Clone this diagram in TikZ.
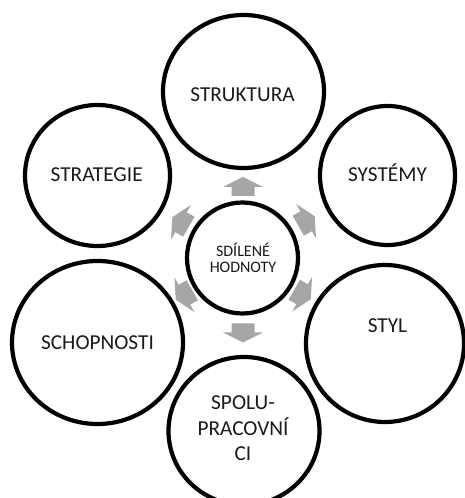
\documentclass[tikz,border=0pt]{standalone}
\usepackage{fontspec}
\setmainfont{Carlito}
\usetikzlibrary{shapes.geometric}
\definecolor{arrowgray}{HTML}{A6A6A6}
\definecolor{txtgray}{HTML}{1A1A1A}
\tikzset{
  ring/.style={ellipse, draw=black, fill=white, line width=4.2pt, inner sep=0pt},
  lbl/.style={font=\fontsize{21.3}{25.5}\selectfont, text=txtgray, anchor=base, align=center, inner sep=0pt},
  smalllbl/.style={font=\fontsize{16}{16.3}\selectfont, text=txtgray, anchor=center, align=center, inner sep=0pt},
  blockarrow/.pic={\fill[arrowgray] (-9.5,-11.5) -- (-0.5,-11.5) -- (-0.5,-20) -- (9.5,0) -- (-0.5,20) -- (-0.5,11.5) -- (-9.5,11.5) -- cycle;}
}
\begin{document}
\begin{tikzpicture}[x=1pt,y=1pt]
\useasboundingbox (0,0) rectangle (465,498);
\clip (0,0) rectangle (465,498);
% arrows (under the circles)
\pic[rotate=90]  at (243,311.5) {blockarrow};
\pic[rotate=270] at (243,165)   {blockarrow};
\pic[rotate=150] at (180.6,276) {blockarrow};
\pic[rotate=30]  at (306.5,277) {blockarrow};
\pic[rotate=210] at (184,203)   {blockarrow};
\pic[rotate=330] at (302.5,203.5) {blockarrow};
% circles
\node[ring, minimum width=161pt, minimum height=153pt] (struktura) at (243.5,406.5) {};
\node[ring, minimum width=145pt, minimum height=141pt] (strategie) at (97.5,322.5) {};
\node[ring, minimum width=135pt, minimum height=139pt] (systemy) at (387.5,322.5) {};
\node[ring, minimum width=171pt, minimum height=163pt] (schopnosti) at (97.5,155.5) {};
\node[ring, minimum width=158pt, minimum height=157pt] (styl) at (385,154.5) {};
\node[ring, minimum width=151pt, minimum height=148pt] (spolu) at (244,67) {};
\node[ring, minimum width=111pt, minimum height=111pt] (hodnoty) at (242.5,240) {};
% texts
\node[lbl] (t-struktura) at (242.5,396.3) {STRUKTURA};
\node[lbl] (t-strategie) at (96.7,316.3) {STRATEGIE};
\node[lbl] (t-systemy) at (387.5,316.3) {SYSTÉMY};
\node[lbl] (t-schopnosti) at (97.5,148.7) {SCHOPNOSTI};
\node[lbl] (t-styl) at (387.5,165.3) {STYL};
\node[lbl, anchor=center] (t-spolu) at (243,69.5) {SPOLU-\\PRACOVNÍ\\CI};
\node[smalllbl] (t-hodnoty) at (243,240) {SDÍLENÉ\\HODNOTY};
\end{tikzpicture}
\end{document}
